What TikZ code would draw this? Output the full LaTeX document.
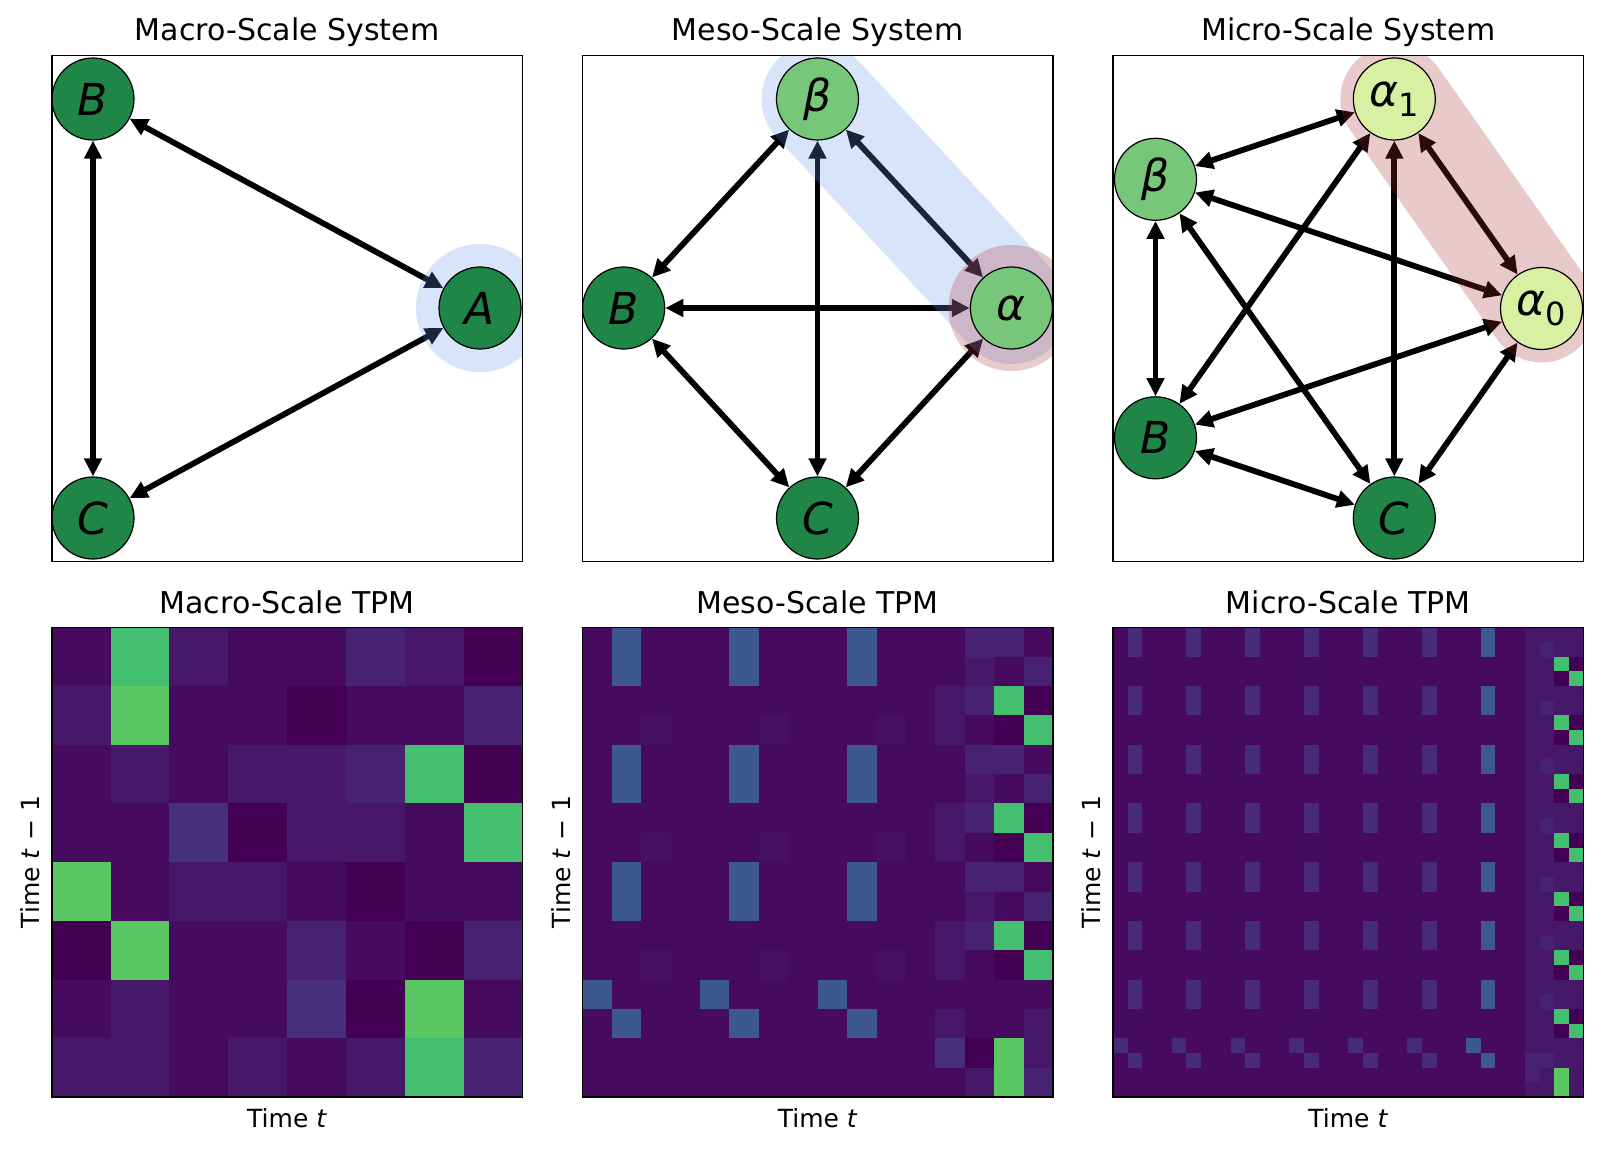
\documentclass[tikz,border=0pt]{standalone}
\usepackage{fontspec}
\setmainfont{DejaVu Sans}[ItalicFont={DejaVu Sans Oblique}]
\usepackage{tikz}
\usepackage{xcolor}
\usetikzlibrary{arrows.meta}

\definecolor{nodeDark}{RGB}{32,134,72}
\definecolor{nodeMid}{RGB}{120,198,121}
\definecolor{nodePale}{RGB}{217,240,163}
\definecolor{haloBlue}{RGB}{100,149,237}
\definecolor{haloRed}{RGB}{170,45,50}
\definecolor{tpm0}{RGB}{68,1,84}
\definecolor{tpm1}{RGB}{70,11,94}
\definecolor{tpm6}{RGB}{70,17,99}
\definecolor{tpm2}{RGB}{71,24,105}
\definecolor{tpm3}{RGB}{72,34,114}
\definecolor{tpm4}{RGB}{70,48,125}
\definecolor{tpm5}{RGB}{60,88,142}
\definecolor{tpm7}{RGB}{68,191,112}
\definecolor{tpm8}{RGB}{90,199,98}
\definecolor{tpmF}{RGB}{72,42,122}

\newcommand{\lowidx}[1]{\raisebox{-0.22em}{\upshape\fontsize{16}{16}\selectfont #1}}

\pgfdeclarelayer{edgelayer}
\pgfdeclarelayer{halolayer}
\pgfsetlayers{edgelayer,halolayer,main}

\tikzset{
  state/.style={circle, draw=black, line width=0.6pt, minimum size=41pt, inner sep=0pt,
    font=\fontsize{22}{22}\selectfont\itshape},
  biarrow/.style={arrows={Triangle[length=9pt,width=8.5pt]-Triangle[length=9pt,width=8.5pt]},
    line width=2.9pt, black},
  frame/.style={draw=black, line width=0.8pt},
  paneltitle/.style={anchor=base, font=\fontsize{15}{18}\selectfont},
  axislabel/.style={anchor=base, font=\fontsize{12.5}{15}\selectfont},
}

\begin{document}
\begin{tikzpicture}[x=0.5pt, y=-0.5pt]
				\useasboundingbox (0,0) rectangle (1602,1150);
				
				% Titles
				\node[paneltitle] (macroTitle) at (287.05,41) {Macro-Scale System};
				\node[paneltitle] (mesoTitle) at (817.65,41) {Meso-Scale System};
				\node[paneltitle] (microTitle) at (1348.25,41) {Micro-Scale System};
				\node[paneltitle] (macroTpmTitle) at (287.05,613.4) {Macro-Scale TPM};
				\node[paneltitle] (mesoTpmTitle) at (817.65,613.4) {Meso-Scale TPM};
				\node[paneltitle] (microTpmTitle) at (1348.25,613.4) {Micro-Scale TPM};
				
				% Macro-scale system
				\node[state, fill=nodeDark] (macroB) at (93,99) {B};
				\node[state, fill=nodeDark] (macroC) at (93,518) {C};
				\node[state, fill=nodeDark] (macroA) at (480,308) {A};
				
				% Meso-scale system
				\node[state, fill=nodeMid] (mesoBeta) at (817.5,99) {β};
				\node[state, fill=nodeDark] (mesoB) at (623.7,308) {B};
				\node[state, fill=nodeMid] (mesoAlpha) at (1011.4,308) {α};
				\node[state, fill=nodeDark] (mesoC) at (817.5,518) {C};
				
				% Micro-scale system
				\node[state, fill=nodePale] (microAlphaOne) at (1394.3,99) {α\lowidx{1}};
				\node[state, fill=nodeMid] (microBeta) at (1155.5,179.3) {β};
				\node[state, fill=nodePale] (microAlphaZero) at (1541.5,308.5) {α\lowidx{0}};
				\node[state, fill=nodeDark] (microB) at (1155.5,437.8) {B};
				\node[state, fill=nodeDark] (microC) at (1394.3,518) {C};
				
				% Connections
				\begin{pgfonlayer}{edgelayer}
					\fill[white] (0,0) rectangle (1602,1150);
					\draw[biarrow] (macroB) -- (macroA);
					\draw[biarrow] (macroB) -- (macroC);
					\draw[biarrow] (macroC) -- (macroA);
					\foreach \a/\b in {mesoBeta/mesoB, mesoBeta/mesoC, mesoBeta/mesoAlpha,
						mesoB/mesoAlpha, mesoB/mesoC, mesoAlpha/mesoC}
						\draw[biarrow] (\a) -- (\b);
					\foreach \a/\b in {microBeta/microAlphaOne, microBeta/microAlphaZero,
						microBeta/microB, microBeta/microC, microAlphaOne/microB,
						microAlphaOne/microC, microAlphaOne/microAlphaZero,
						microAlphaZero/microB, microAlphaZero/microC, microB/microC}
						\draw[biarrow] (\a) -- (\b);
				\end{pgfonlayer}
				
				% Highlighted groups
				\begin{pgfonlayer}{halolayer}
					\begin{scope}
						\clip (51.7,55.5) rectangle +(470.7,506.1);
						\fill[haloBlue, fill opacity=0.25] (macroA.center) circle[radius=64];
					\end{scope}
					\begin{scope}
						\clip (582.3,55.5) rectangle +(470.7,506.1);
						\draw[haloBlue, draw opacity=0.25, line width=56pt, line cap=round]
							(mesoBeta.center) -- (mesoAlpha.center);
						\fill[haloRed, fill opacity=0.25] (mesoAlpha.center) circle[radius=63];
					\end{scope}
					\begin{scope}
						\clip (1112.9,55.5) rectangle +(470.7,506.1);
						\draw[haloRed, draw opacity=0.25, line width=54pt, line cap=round]
							(microAlphaOne.center) -- (microAlphaZero.center);
					\end{scope}
				\end{pgfonlayer}
				
				% Macro-scale TPM
				\begin{scope}[shift={(51.7,627.3)}, xscale=58.84, yscale=58.71]
					\fill[tpm1] (0,0) rectangle (8,8);
					\foreach \row [count=\r from 0] in {{1,7,2,1,1,3,2,0},{2,8,1,1,0,1,1,3},
						{1,2,1,2,2,3,7,0},{1,1,4,0,2,2,1,7},{8,1,2,2,1,0,1,1},
						{0,8,1,1,3,1,0,3},{1,2,1,1,4,0,8,1},{2,2,1,2,1,2,7,3}}{
						\foreach \v [count=\c from 0] in \row
							\fill[tpm\v] (\c,\r) rectangle +(1.01,1.01);
					}
				\end{scope}
				
				% Meso-scale TPM
				\begin{scope}[shift={(582.3,627.3)}, xscale=29.42, yscale=29.36]
					\fill[tpm1] (0,0) rectangle (16,16);
					\foreach \r in {0,4,8}{
						\fill[tpm3] (13,\r) rectangle +(2,1);
						\fill[tpm2] (13,\r+1) rectangle +(1,1);
						\fill[tpm3] (15,\r+1) rectangle +(1,1);
						\fill[tpm2] (12,\r+2) rectangle +(1,1);
						\fill[tpm3] (13,\r+2) rectangle +(1,1);
						\fill[tpm0] (15,\r+2) rectangle +(1,1);
						\fill[tpm2] (12,\r+3) rectangle +(1,1);
						\fill[tpm0] (14,\r+3) rectangle +(1,1);
						\foreach \c in {2,6,10}
							\fill[tpm6] (\c,\r+3) rectangle +(1,1);
					}
					\fill[tpm2] (12,13) rectangle +(1,1);
					\fill[tpm2] (15,13) rectangle +(1,1);
					\fill[tpm4] (12,14) rectangle +(1,1);
					\fill[tpm0] (13,14) rectangle +(1,1);
					\fill[tpm2] (15,14) rectangle +(1,1);
					\fill[tpm2] (13,15) rectangle +(1,1);
					\fill[tpm3] (15,15) rectangle +(1,1);
					\foreach \c in {1,5,9}
						\foreach \r in {0,4,8}
							\fill[tpm5] (\c,\r) rectangle +(1,2);
					\foreach \c in {0,4,8}{
						\fill[tpm5] (\c,12) rectangle +(1,1);
						\fill[tpm5] (\c+1,13) rectangle +(1,1);
					}
					\foreach \r in {2,6,10}{
						\fill[tpm7] (14,\r) rectangle +(1,1);
						\fill[tpm7] (15,\r+1) rectangle +(1,1);
					}
					\fill[tpm8] (14,14) rectangle +(1,2);
				\end{scope}
				
				% Micro-scale TPM
				\begin{scope}[shift={(1112.9,627.3)}, xscale=14.71, yscale=14.68]
					\fill[tpm1] (0,0) rectangle (32,32);
					\fill[tpm2] (28,0) rectangle (32,32);
					\foreach \r in {1,5,...,29}
						\fill[tpm3] (29,\r) rectangle +(1,1);
					\foreach \c in {1,5,...,21}
						\foreach \r in {0,4,...,24}
							\fill[tpmF] (\c,\r) rectangle +(1,2);
					\foreach \r in {0,4,...,24}
						\fill[tpm5] (25,\r) rectangle +(1,2);
					\foreach \c in {0,4,...,20}{
						\fill[tpmF] (\c,28) rectangle +(1,1);
						\fill[tpmF] (\c+1,29) rectangle +(1,1);
					}
					\fill[tpm5] (24,28) rectangle +(1,1);
					\fill[tpm5] (25,29) rectangle +(1,1);
					\fill[tpm3] (28,29) rectangle +(1,2);
					\foreach \r in {2,6,...,26}{
						\fill[tpm0] (31,\r) rectangle +(1,1);
						\fill[tpm0] (30,\r+1) rectangle +(1,1);
						\fill[tpm7] (30,\r) rectangle +(1,1);
						\fill[tpm7] (31,\r+1) rectangle +(1,1);
					}
					\fill[tpm8] (30,30) rectangle +(1,2);
				\end{scope}
				
				% Frames
				\foreach \x in {51.7,582.3,1112.9}{
					\draw[frame] (\x,55.5) rectangle +(470.7,506.1);
					\draw[frame] (\x,627.3) rectangle +(470.7,469.7);
				}
				
				% Axis labels
				\node[axislabel] (macroXlabel) at (287.05,1127) {Time \textit{t}};
				\node[axislabel] (mesoXlabel) at (817.65,1127) {Time \textit{t}};
				\node[axislabel] (microXlabel) at (1348.25,1127) {Time \textit{t}};
				\node[axislabel, rotate=90] (macroYlabel) at (39.4,862.2) {Time \textit{t} − 1};
				\node[axislabel, rotate=90] (mesoYlabel) at (570,862.2) {Time \textit{t} − 1};
				\node[axislabel, rotate=90] (microYlabel) at (1100.6,862.2) {Time \textit{t} − 1};
			\end{tikzpicture}
\end{document}
